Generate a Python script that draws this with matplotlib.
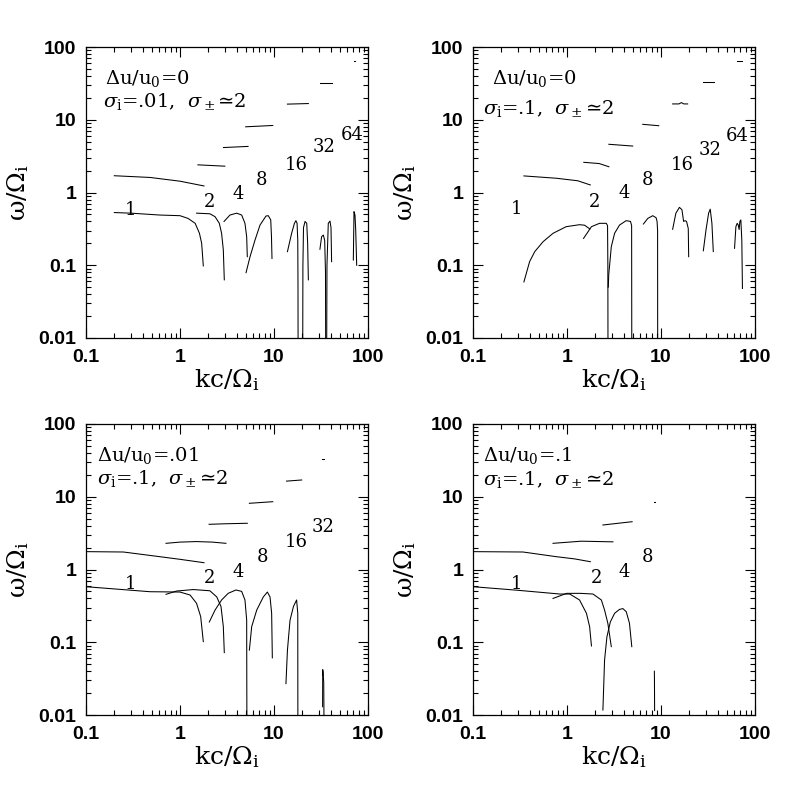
import matplotlib
matplotlib.use('Agg')
import matplotlib.pyplot as plt
from matplotlib.ticker import FixedLocator, LogLocator, NullFormatter, FuncFormatter

plt.rcParams['mathtext.fontset'] = 'dejavuserif'

# ---------------- data (k c / Omega_i , omega / Omega_i) ----------------
# Panel A: du/u0 = 0, sigma_i = .01
a_k = [
    [0.2, 0.48, 1.0, 1.8],
    [1.55, 3.0],
    [2.9, 5.3],
    [5.0, 9.7],
    [13.9, 23.2],
    [30.8, 41.0],
    [70.5, 73.0],
    [0.2, 0.3, 0.61, 1.0, 1.22, 1.45, 1.61, 1.70, 1.77],
    [1.50, 2.08, 2.36, 2.62, 2.77, 2.89, 2.96],
    [2.94, 3.40, 4.01, 4.53, 4.91, 5.12, 5.2],
    [5.04, 5.56, 6.28, 7.10, 8.22, 8.7, 9.23, 9.4, 9.52],
    [13.9, 15.4, 16.5, 17.1, 17.6, 17.9, 18.0, 18.05],
    [20.2, 20.3, 20.6, 21.4, 22.3, 22.8, 23.2],
    [30.8, 32.1, 33.5, 34.6, 35.3, 35.5],
    [36.3, 36.6, 37.8, 39.4, 40.4, 41.0],
    [69.8, 71.0, 72.7, 74.0, 75.8],
]
a_w = [
    [1.70, 1.61, 1.43, 1.23],
    [2.4, 2.3],
    [4.15, 4.3],
    [8.0, 8.34],
    [16.4, 16.7],
    [32.4, 32.4],
    [64.0, 64.0],
    [0.53, 0.52, 0.49, 0.48, 0.44, 0.377, 0.275, 0.20, 0.098],
    [0.52, 0.51, 0.465, 0.377, 0.275, 0.162, 0.063],
    [0.40, 0.49, 0.52, 0.49, 0.377, 0.247, 0.131],
    [0.079, 0.131, 0.222, 0.357, 0.475, 0.48, 0.42, 0.247, 0.124],
    [0.154, 0.275, 0.377, 0.41, 0.377, 0.22, 0.05, 0.005],
    [0.005, 0.1, 0.33, 0.40, 0.377, 0.20, 0.063],
    [0.166, 0.247, 0.26, 0.22, 0.08, 0.005],
    [0.005, 0.1, 0.377, 0.405, 0.33, 0.112],
    [0.118, 0.545, 0.49, 0.305, 0.10],
]
a_lab = ['1', '2', '4', '8', '16', '32', '64']
a_lab_k = [0.294, 2.08, 4.11, 7.4, 17.4, 34.3, 67.6]
a_lab_w = [0.575, 0.75, 0.94, 1.49, 2.39, 4.2, 6.2]

# Panel B: du/u0 = 0, sigma_i = .1
b_k = [
    [0.348, 0.77, 1.3, 1.77],
    [1.51, 2.2, 2.79],
    [2.79, 5.0],
    [6.4, 9.46],
    [13.3, 15.5, 16.5, 17.5, 19.2],
    [28.2, 36.8],
    [64.0, 73.5],
    [0.348, 0.40, 0.454, 0.557, 0.711, 0.98, 1.36, 1.54, 1.75],
    [1.50, 1.82, 2.22, 2.62, 2.70, 2.72, 2.73],
    [2.75, 2.78, 2.84, 2.96, 3.21, 3.62, 4.26, 4.74, 4.87, 4.89],
    [6.5, 7.23, 8.17, 8.87, 9.08, 9.2, 9.22],
    [13.3, 14.4, 15.7, 16.7, 17.4, 18.0, 18.7, 19.5, 19.7],
    [28.2, 30.1, 32.1, 33.4, 34.8, 36.0],
    [60.6, 62.6, 64.6, 66.2, 67.8, 69.0, 70.7, 72.4, 73.5],
]
b_w = [
    [1.69, 1.57, 1.45, 1.27],
    [2.6, 2.5, 2.26],
    [4.6, 4.35],
    [8.65, 8.28],
    [16.5, 16.5, 17.2, 16.5, 16.5],
    [32.7, 32.7],
    [64.9, 64.9],
    [0.059, 0.112, 0.154, 0.211, 0.275, 0.339, 0.361, 0.355, 0.315],
    [0.234, 0.339, 0.377, 0.377, 0.35, 0.1, 0.005],
    [0.05, 0.075, 0.10, 0.18, 0.275, 0.357, 0.41, 0.40, 0.35, 0.005],
    [0.369, 0.44, 0.48, 0.45, 0.40, 0.3, 0.005],
    [0.312, 0.52, 0.625, 0.58, 0.40, 0.41, 0.40, 0.32, 0.131],
    [0.158, 0.305, 0.52, 0.59, 0.377, 0.154],
    [0.171, 0.339, 0.377, 0.36, 0.31, 0.40, 0.42, 0.222, 0.048],
]
b_lab = ['1', '2', '4', '8', '16', '32', '64']
b_lab_k = [0.29, 1.97, 4.1, 7.2, 17.0, 33.0, 65.0]
b_lab_w = [0.59, 0.75, 0.975, 1.49, 2.39, 3.84, 6.0]

# Panel C: du/u0 = .01, sigma_i = .1
c_k = [
    [0.1, 0.25, 0.61, 1.0, 1.8],
    [0.71, 1.0, 1.5, 2.2, 3.08],
    [2.04, 3.0, 5.2],
    [5.47, 9.7],
    [13.6, 19.7],
    [32.7, 34.0],
    [0.1, 0.294, 0.48, 1.0, 1.28, 1.50, 1.66, 1.77],
    [0.71, 0.92, 1.39, 2.08, 2.46, 2.73, 2.89, 2.96],
    [2.05, 2.36, 2.77, 3.26, 3.94, 4.53, 4.91, 5.12, 5.15],
    [5.47, 5.79, 6.55, 7.7, 8.5, 9.07, 9.44, 9.6],
    [13.4, 13.9, 14.8, 16.1, 17.4, 17.9, 17.95],
    [32.9, 33.0, 33.1],
    [33.2, 33.8, 34.0],
]
c_w = [
    [1.76, 1.74, 1.50, 1.38, 1.24],
    [2.29, 2.38, 2.42, 2.38, 2.29],
    [4.18, 4.25, 4.32],
    [8.13, 8.55],
    [16.4, 17.0],
    [32.7, 32.7],
    [0.58, 0.52, 0.495, 0.49, 0.446, 0.343, 0.225, 0.102],
    [0.456, 0.506, 0.53, 0.51, 0.42, 0.31, 0.164, 0.072],
    [0.19, 0.277, 0.381, 0.471, 0.523, 0.50, 0.381, 0.202, 0.005],
    [0.078, 0.164, 0.277, 0.42, 0.49, 0.42, 0.25, 0.061],
    [0.027, 0.078, 0.20, 0.31, 0.381, 0.25, 0.005],
    [0.013, 0.042, 0.035],
    [0.04, 0.028, 0.0095],
]
c_lab = ['1', '2', '4', '8', '16', '32']
c_lab_k = [0.294, 2.08, 4.11, 7.5, 17.4, 33.4]
c_lab_w = [0.63, 0.76, 0.93, 1.5, 2.42, 3.88]

# Panel D: du/u0 = .1, sigma_i = .1
d_k = [
    [0.1, 0.34, 0.77, 1.2, 1.77],
    [0.71, 1.42, 3.08],
    [2.41, 4.93],
    [8.45, 8.6],
    [0.1, 0.29, 0.84, 1.07, 1.36, 1.61, 1.74, 1.82],
    [0.71, 0.99, 1.4, 1.89, 2.32, 2.51, 2.72, 2.96],
    [2.41, 2.51, 2.66, 2.89, 3.21, 3.62, 3.93, 4.27, 4.62, 4.89],
    [8.5, 8.52, 8.55],
]
d_w = [
    [1.76, 1.74, 1.50, 1.40, 1.28],
    [2.29, 2.45, 2.40],
    [4.09, 4.54],
    [8.4, 8.4],
    [0.58, 0.52, 0.46, 0.46, 0.381, 0.25, 0.164, 0.089],
    [0.40, 0.47, 0.47, 0.46, 0.381, 0.277, 0.182, 0.087],
    [0.0117, 0.057, 0.119, 0.19, 0.25, 0.283, 0.29, 0.263, 0.182, 0.087],
    [0.04, 0.03, 0.0115],
]
d_lab = ['1', '2', '4', '8']
d_lab_k = [0.29, 2.05, 4.1, 7.2]
d_lab_w = [0.63, 0.76, 0.93, 1.5]

texts1 = ['Δu/u$_0$=0', 'Δu/u$_0$=0', 'Δu/u$_0$=.01', 'Δu/u$_0$=.1']
texts2 = [r'$\sigma_{\rm i}$=.01,  $\sigma_\pm$≃2',
          r'$\sigma_{\rm i}$=.1,  $\sigma_\pm$≃2',
          r'$\sigma_{\rm i}$=.1,  $\sigma_\pm$≃2',
          r'$\sigma_{\rm i}$=.1,  $\sigma_\pm$≃2']

x_ticks = [0.1, 1, 10, 100]
y_ticks = [0.01, 0.1, 1, 10, 100]

# ---------------- figure ----------------
fig = plt.figure(figsize=(8, 8), dpi=100)
W, H = 282, 291
corners = [(86, 47), (473, 47), (86, 424), (473, 424)]
t1_pos = [(0.067, 0.892), (0.066, 0.892), (0.038, 0.893), (0.036, 0.893)]
t2_pos = [(0.060, 0.812), (0.036, 0.789), (0.038, 0.813), (0.036, 0.808)]

panels = [(a_k, a_w, a_lab, a_lab_k, a_lab_w),
          (b_k, b_w, b_lab, b_lab_k, b_lab_w),
          (c_k, c_w, c_lab, c_lab_k, c_lab_w),
          (d_k, d_w, d_lab, d_lab_k, d_lab_w)]

fmt = FuncFormatter(lambda v, p: ('%g' % v))
serif = ['DejaVu Serif', 'DejaVu Sans']

for i, (ks, ws, labs, lk, lw_) in enumerate(panels):
    x0, y0 = corners[i]
    ax = fig.add_axes([x0 / 800, 1 - (y0 + H) / 800, W / 800, H / 800])
    for k, w in zip(ks, ws):
        ax.plot(k, w, color='black', lw=0.75, solid_joinstyle='round')
    for s, kk, ww in zip(labs, lk, lw_):
        ax.text(kk, ww, s, ha='center', va='center', fontsize=13, family=serif)
    ax.set_xscale('log')
    ax.set_yscale('log')
    ax.set_xlim(0.1, 100)
    ax.set_ylim(0.01, 100)
    ax.xaxis.set_major_locator(FixedLocator(x_ticks))
    ax.yaxis.set_major_locator(FixedLocator(y_ticks))
    ax.xaxis.set_minor_locator(LogLocator(base=10, subs=range(2, 10)))
    ax.yaxis.set_minor_locator(LogLocator(base=10, subs=range(2, 10)))
    ax.xaxis.set_major_formatter(fmt)
    ax.yaxis.set_major_formatter(fmt)
    ax.xaxis.set_minor_formatter(NullFormatter())
    ax.yaxis.set_minor_formatter(NullFormatter())
    ax.tick_params(which='both', direction='in', top=True, right=True, width=0.8)
    ax.tick_params(which='major', length=7.5)
    ax.tick_params(which='minor', length=3.6)
    ax.tick_params(axis='x', which='major', pad=8)
    ax.tick_params(axis='y', which='major', pad=7)
    for lab in ax.get_xticklabels() + ax.get_yticklabels():
        lab.set_fontfamily('Liberation Sans')
        lab.set_fontweight('bold')
        lab.set_fontsize(14)
    for sp in ax.spines.values():
        sp.set_linewidth(0.9)
    ax.set_xlabel(r'kc/$\Omega_{\rm i}$', fontsize=18, family=serif)
    ax.xaxis.set_label_coords(0.5, -0.144)
    ax.xaxis.label.set_va('center')
    ax.set_ylabel(r'ω/$\Omega_{\rm i}$', fontsize=18, family=serif)
    ax.yaxis.set_label_coords(-0.241, 0.5)
    ax.yaxis.label.set_va('center')
    ax.text(t1_pos[i][0], t1_pos[i][1], texts1[i], transform=ax.transAxes,
            ha='left', va='center', fontsize=14, family=serif)
    ax.text(t2_pos[i][0], t2_pos[i][1], texts2[i], transform=ax.transAxes,
            ha='left', va='center', fontsize=14, family=serif)

fig.savefig('out.png', dpi=100)
